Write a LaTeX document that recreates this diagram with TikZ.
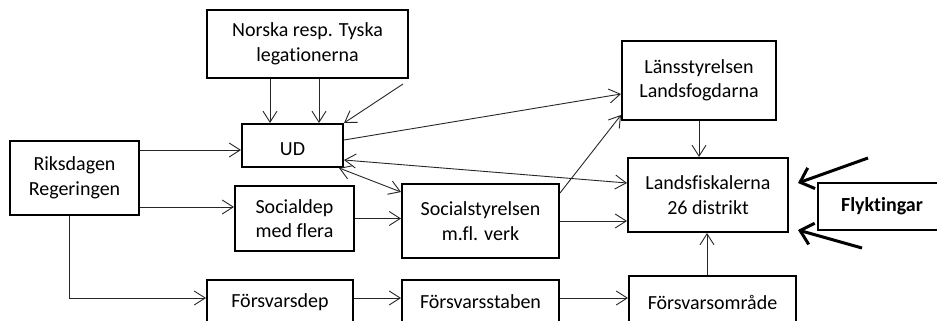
\documentclass[tikz,border=0pt]{standalone}
\usepackage{fontspec}
\setmainfont[Ligatures=NoCommon]{Carlito}
\usetikzlibrary{arrows.meta}
\begin{document}
\begin{tikzpicture}[x=1pt,y=-1pt,
  box/.style={draw=black,line width=2pt,align=center,inner sep=0pt,
    font=\fontsize{20}{24.5}\selectfont},
  arr/.style={draw=black!85,line width=0.9pt,-{Straight Barb[length=11pt,width=14pt]}},
  darr/.style={draw=black!85,line width=0.9pt,{Straight Barb[length=11pt,width=14pt]}-{Straight Barb[length=11pt,width=14pt]}},
  thickarr/.style={draw=black,line width=3pt,-{Straight Barb[length=12pt,width=22pt]}}]
\useasboundingbox (0,0) rectangle (937,321);
\clip (0,0) rectangle (937,321);
% nodes
\node[box,minimum width=201pt,minimum height=68pt] (norska) at (307.5,44) {Norska resp. Tyska\\legationerna};
\node[box,minimum width=101pt,minimum height=43pt,text height=19pt,text depth=0pt] (ud) at (292.5,145.5) {UD};
\node[box,minimum width=129pt,minimum height=74pt] (riks) at (74.5,178) {Riksdagen\\Regeringen};
\node[box,minimum width=119pt,minimum height=65pt] (socdep) at (294.5,218.5) {Socialdep\\med flera};
\node[box,minimum width=157pt,minimum height=74pt] (socstyr) at (480.5,221) {Socialstyrelsen\\m.fl. verk};
\node[box,minimum width=146pt,minimum height=44pt] (fdep) at (280,302) {Försvarsdep};
\node[box,minimum width=157pt,minimum height=44pt] (fstab) at (480.5,302) {Försvarsstaben};
\node[box,minimum width=167pt,minimum height=52pt] (fomr) at (712.5,302) {Försvarsområde};
\node[box,minimum width=154pt,minimum height=79pt] (lans) at (699,80.5) {Länsstyrelsen\\Landsfogdarna};
\node[box,minimum width=160pt,minimum height=74pt] (landsf) at (708,195) {Landsfiskalerna\\26 distrikt};
\node[box,minimum width=128pt,minimum height=47pt,font=\fontsize{20}{24.5}\selectfont\bfseries] (flykt) at (882,206.5) {Flyktingar};
% connectors
\draw[arr] ([xshift=-37.5pt]norska.south) -- ([xshift=-37.5pt]norska.south |- ud.north);
\draw[arr] ([xshift=11.5pt]norska.south) -- ([xshift=11.5pt]norska.south |- ud.north);
\coordinate (n3) at (403,84);
\draw[arr] (n3) -- (ud.north east);
\draw[arr] ([yshift=5.5pt]ud.east) -- ([yshift=-13.5pt]lans.west);
\coordinate (udw) at ([yshift=-4.5pt]ud.west);
\draw[arr] (riks.east |- udw) -- (udw);
\draw[darr] ([yshift=-14.5pt]ud.east) -- ([yshift=12pt]landsf.west);
\draw[darr] ([xshift=-5pt]ud.south east) -- ([yshift=-9pt]socstyr.north west);
\coordinate (sdw) at ([yshift=11.5pt]socdep.west);
\draw[arr] (riks.east |- sdw) -- (sdw);
\draw[arr] (socdep.east) -- (socdep.east -| socstyr.west);
\draw[arr] ([yshift=28pt]socstyr.east) -- ([yshift=-34.5pt]lans.west);
\draw[arr] (socstyr.east) -- (socstyr.east -| landsf.west);
\draw[arr] (lans.south) -- (lans.south |- landsf.north);
\draw[arr] ([xshift=-5.5pt]fomr.north) -- ([xshift=-5.5pt]fomr.north |- landsf.south);
\coordinate (fdw) at ([yshift=4pt]fdep.west);
\draw[arr] ([xshift=-5.5pt]riks.south) |- (fdw);
\draw[arr] (fdw -| fdep.east) -- (fdw -| fstab.west);
\draw[arr] (fdw -| fstab.east) -- (fdw -| fomr.west);
\coordinate (t1) at (868,158);
\coordinate (t2) at (862,248);
\draw[thickarr] (t1) -- ([xshift=9pt,yshift=12pt]landsf.east);
\draw[thickarr] (t2) -- ([xshift=9pt,yshift=-35pt]landsf.east);
\end{tikzpicture}
\end{document}
